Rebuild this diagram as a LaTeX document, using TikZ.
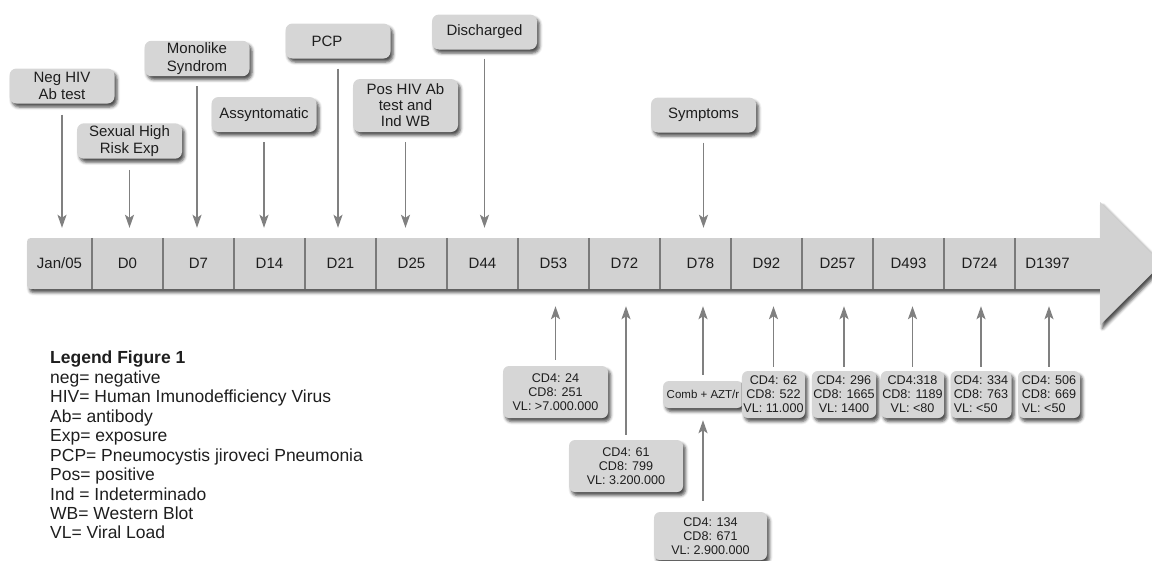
\documentclass[tikz,border=0pt]{standalone}
\usepackage{fontspec}
\setmainfont{Liberation Sans}
\usetikzlibrary{shadows.blur,arrows.meta}
\definecolor{boxfill}{RGB}{214,214,214}
\definecolor{barfill}{RGB}{210,210,210}
\definecolor{linegray}{RGB}{128,128,128}
\definecolor{divgray}{RGB}{122,122,122}
\definecolor{txt}{RGB}{30,30,30}
\tikzset{
  shad/.style={blur shadow={shadow xshift=2.5pt,shadow yshift=-3.5pt,shadow blur radius=3pt,shadow opacity=70}},
  event/.style={shad,fill=boxfill,rounded corners=7pt,minimum width=105pt,minimum height=35pt,
     align=center,text=txt,font=\fontsize{15}{17.5}\selectfont,inner sep=2pt},
  lab/.style={shad,fill=boxfill,rounded corners=6pt,minimum height=47pt,
     align=center,text=txt,font=\fontsize{12.6}{14}\selectfont,inner sep=1.5pt},
  cell/.style={minimum height=51pt,inner sep=0pt,text=txt,font=\fontsize{15}{16}\selectfont},
  div/.style={draw=divgray,line width=1.6pt},
  arr/.style={draw=linegray,line width=1.9pt,-{Stealth[length=13pt,width=9pt,inset=3pt]}},
}
\begin{document}
\begin{tikzpicture}[x=1pt,y=-1pt]
\useasboundingbox (0,0) rectangle (1152,560);
% timeline bar
\path[shad,fill=barfill] (1100,238) -- (35,238) .. controls (27,238) .. (27,246) -- (27,281)
   .. controls (27,289) .. (35,289) -- (1100,289) -- (1100,325) -- (1162,263.5) -- (1100,202) -- cycle;
% cells
\node[cell,minimum width=65pt] (c0) at (59.5,263.5) {Jan/05};
\node[cell,minimum width=71pt] (c1) at (127.5,263.5) {D0};
\node[cell,minimum width=71pt] (c2) at (198.5,263.5) {D7};
\node[cell,minimum width=71pt] (c3) at (269.5,263.5) {D14};
\node[cell,minimum width=71pt] (c4) at (340.5,263.5) {D21};
\node[cell,minimum width=71pt] (c5) at (411.5,263.5) {D25};
\node[cell,minimum width=71pt] (c6) at (482.5,263.5) {D44};
\node[cell,minimum width=71pt] (c7) at (553.5,263.5) {D53};
\node[cell,minimum width=71pt] (c8) at (624.5,263.5) {D72};
\node[cell,minimum width=71pt] (c9) at (695.5,263.5) {\hspace*{10pt}D78};
\node[cell,minimum width=71pt] (c10) at (766.5,263.5) {D92};
\node[cell,minimum width=71pt] (c11) at (837.5,263.5) {D257};
\node[cell,minimum width=71pt] (c12) at (908.5,263.5) {D493};
\node[cell,minimum width=71pt] (c13) at (979.5,263.5) {D724};
\node[cell,minimum width=65pt] (c14) at (1047.5,263.5) {D1397};
\foreach \i in {0,...,13} \draw[div] (c\i.north east) -- (c\i.south east);
% top events
\node[event] (neg) at (62,86) {Neg HIV\\Ab test};
\node[event] (sex) at (129.5,141) {Sexual High\\Risk Exp};
\node[event] (mono) at (197,58.5) {Monolike\\Syndrom};
\node[event] (assy) at (264,114.5) {Assyntomatic};
\node[event] (pcp) at (338,41) {PCP\hspace*{22pt}};
\node[event,minimum height=53pt,font=\fontsize{15}{16}\selectfont] (pos) at (405.5,105.5) {Pos HIV Ab\\test and\\Ind WB};
\node[event] (dis) at (484.5,32) {Discharged};
\node[event] (sym) at (703.5,115) {Symptoms};
\draw[arr] ([yshift=-11pt]neg.south) -- ([yshift=10pt]neg.south |- c0.north);
\draw[arr] ([yshift=-11pt]sex.south) -- ([yshift=10pt]sex.south |- c1.north);
\draw[arr] ([yshift=-10pt]mono.south) -- ([yshift=10pt]mono.south |- c2.north);
\draw[arr] ([yshift=-10pt]assy.south) -- ([yshift=10pt]assy.south |- c3.north);
\draw[arr] ([yshift=-10pt]pcp.south) -- ([yshift=10pt]pcp.south |- c4.north);
\draw[arr] ([yshift=-10pt]pos.south) -- ([yshift=10pt]pos.south |- c5.north);
\draw[arr] ([yshift=-9pt]dis.south) -- ([yshift=10pt]dis.south |- c6.north);
\draw[arr] ([yshift=-10pt]sym.south) -- ([yshift=10pt]sym.south |- c9.north);
% bottom labels
\node[lab,minimum width=105pt,minimum height=52pt] (b53) at (555.5,392) {CD4: 24\\CD8: 251\\VL: >7.000.000};
\node[lab,minimum width=114pt,minimum height=52pt] (b72) at (626,466) {CD4: 61\\CD8: 799\\VL: 3.200.000};
\node[lab,minimum width=80pt,minimum height=27pt,font=\fontsize{11.5}{14}\selectfont,inner sep=3pt] (comb) at (703,394.5) {Comb + AZT/r};
\node[lab,minimum width=113pt,minimum height=48pt] (b78) at (710.5,536) {CD4: 134\\CD8: 671\\VL: 2.900.000};
\node[lab,minimum width=61pt] (b92) at (773.5,394.5) {CD4: 62\\CD8: 522\\VL: 11.000};
\node[lab,minimum width=62pt] (b257) at (844,394.5) {CD4: 296\\CD8: 1665\\VL: 1400};
\node[lab,minimum width=61pt] (b493) at (912.5,394.5) {CD4:318\\CD8: 1189\\VL: <80};
\node[lab,minimum width=61pt,align=left] (b724) at (981,394.5) {CD4: 334\\CD8: 763\\VL: <50};
\node[lab,minimum width=62pt,align=left] (b1397) at (1049,394.5) {CD4: 506\\CD8: 669\\VL: <50};
\draw[arr] ([yshift=6pt]b53.north) -- ([yshift=-17pt]b53.north |- c7.south);
\draw[arr] ([yshift=5pt]b72.north) -- ([yshift=-17pt]b72.north |- c8.south);
\draw[arr] ([yshift=6pt]comb.north) -- ([yshift=-17pt]comb.north |- c9.south);
\draw[arr] ([yshift=11pt]b78.north -| comb.south) -- ([yshift=-12pt]comb.south);
\draw[arr] ([yshift=4pt]b92.north) -- ([yshift=-17pt]b92.north |- c10.south);
\draw[arr] ([yshift=4pt]b257.north) -- ([yshift=-17pt]b257.north |- c11.south);
\draw[arr] ([yshift=4pt]b493.north) -- ([yshift=-17pt]b493.north |- c12.south);
\draw[arr] ([yshift=4pt]b724.north) -- ([yshift=-17pt]b724.north |- c13.south);
\draw[arr] ([yshift=4pt]b1397.north) -- ([yshift=-17pt]b1397.north |- c14.south);
% legend
\node[anchor=north west,align=left,inner sep=0pt,text=txt,font=\fontsize{17.5}{19.45}\selectfont] (legend) at (50,351)
 {\textbf{Legend Figure 1}\\neg= negative\\HIV= Human Imunodefficiency Virus\\Ab= antibody\\Exp= exposure\\PCP= Pneumocystis jiroveci Pneumonia\\Pos= positive\\Ind = Indeterminado\\WB= Western Blot\\VL= Viral Load};
\end{tikzpicture}
\end{document}
